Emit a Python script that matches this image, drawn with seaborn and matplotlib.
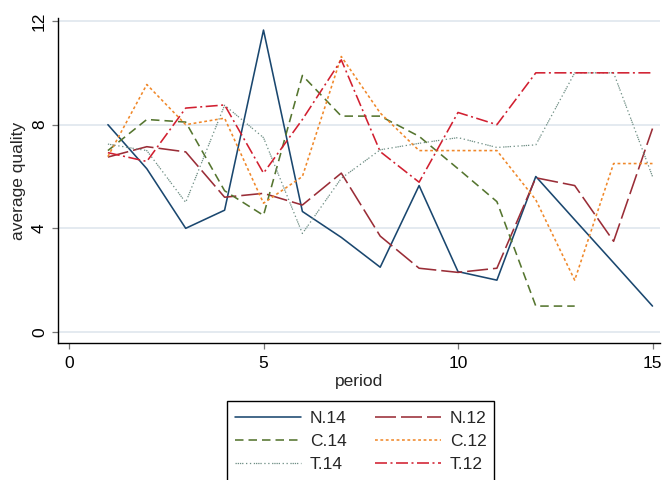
import numpy as np
import pandas as pd
import matplotlib
matplotlib.use("Agg")
import matplotlib.pyplot as plt
from matplotlib.patches import Rectangle
import seaborn as sns

period = list(range(1, 16))
N14 = [8.0, 6.3, 4.0, 4.7, 11.65, 4.65, 3.65, 2.5, 5.65, 2.33, 2.0, 6.0, 4.33, 2.67, 1.0]
N12 = [6.75, 7.15, 6.95, 5.2, 5.35, 4.9, 6.13, 3.7, 2.46, 2.3, 2.46, 5.95, 5.65, 3.5, 7.85]
C14 = [7.0, 8.2, 8.1, 5.45, 4.5, 9.9, 8.33, 8.33, 7.55, 6.3, 5.03, 1.0, 1.0]
C12 = [6.77, 9.55, 8.0, 8.25, 4.97, 6.0, 10.63, 8.45, 7.0, 7.0, 7.0, 5.1, 2.0, 6.5, 6.5]
T14 = [7.25, 7.0, 5.0, 8.75, 7.5, 3.8, 5.93, 7.03, 7.28, 7.5, 7.12, 7.22, 10.0, 10.0, 6.0]
T12 = [6.92, 6.58, 8.64, 8.76, 6.13, 8.2, 10.5, 6.96, 5.78, 8.47, 8.0, 10.0, 10.0, 10.0, 10.0]

series_names = ["N.14", "N.12", "C.14", "C.12", "T.14", "T.12"]
series_vals = [N14, N12, C14, C12, T14, T12]
x_ticks = [0, 5, 10, 15]
y_ticks = [0, 4, 8, 12]

colors = ["#1a476f", "#9a2d37", "#55752f", "#f0882a", "#6e8e84", "#d11f30"]

PX = 72 / 100  # points per pixel


def dash(lw, *px):
    return (0, tuple(p * PX / lw for p in px))


LW = 1.15
styles = [
    dict(lw=LW, ls="-"),
    dict(lw=LW, ls=dash(LW, 21, 5)),
    dict(lw=LW, ls=dash(LW, 8.5, 5)),
    dict(lw=LW, ls=dash(LW, 2.8, 2.6)),
    dict(lw=0.9, ls=dash(0.9, 1.3, 0.9, 1.3, 0.9, 1.3, 0.9, 1.3, 2.6, 1.3, 2.6, 1.3, 2.6)),
    dict(lw=LW, ls=dash(LW, 12, 3.5, 2, 3.5)),
]

sns.set_style("white")
plt.rcParams["font.family"] = ["Liberation Sans", "DejaVu Sans"]

fig = plt.figure(figsize=(6.63, 4.80), dpi=100)
ax = fig.add_axes([58 / 663, 1 - 343 / 480, (660 - 58) / 663, (343 - 18) / 480])

for ytk in y_ticks:
    ax.axhline(ytk, color="#dde4ec", lw=1.1, zorder=0)

handles = {}
for name, vals, col, st in zip(series_names, series_vals, colors, styles):
    df = pd.DataFrame({"period": period[:len(vals)], "value": vals})
    sns.lineplot(data=df, x="period", y="value", ax=ax, color=col,
                 linewidth=st["lw"], linestyle=st["ls"], estimator=None,
                 sort=False, label=name, legend=False)
    handles[name] = ax.lines[-1]

ax.set_xlim((58 - 69) / 38.9, (660 - 69) / 38.9)
ax.set_ylim(-11 / 25.9, 12 + 3 / 25.9)
ax.set_xticks(x_ticks)
ax.set_yticks(y_ticks)
ax.set_yticklabels([str(v) for v in y_ticks], rotation=90, va="center")

for s in ["top", "right"]:
    ax.spines[s].set_visible(False)
for s in ["left", "bottom"]:
    ax.spines[s].set_color("black")
    ax.spines[s].set_linewidth(1.0)

ax.tick_params(axis="both", which="major", length=4, width=0.9, color="#777777",
               labelsize=12.5, labelcolor="black", left=True, bottom=True)
ax.tick_params(axis="x", pad=5)
ax.tick_params(axis="y", pad=4)

ax.set_xlabel("period", fontsize=12.5)
ax.set_ylabel("average quality", fontsize=12.5)
ax.xaxis.set_label_coords(0.5, -0.095)
ax.yaxis.set_label_coords(-0.053, 0.5)

# legend frame drawn separately
fig.patches.append(Rectangle((226.7 / 663, -0.05), (494.3 - 226.7) / 663,
                             1 - 400.7 / 480 + 0.05, transform=fig.transFigure,
                             facecolor="white", edgecolor="black", lw=1.0, zorder=1))

order = ["N.14", "C.14", "T.14", "N.12", "C.12", "T.12"]
leg = fig.legend([handles[n] for n in order], order, ncol=2,
                 loc="upper left", bbox_to_anchor=(226.7 / 663, 1 - 403.5 / 480),
                 fontsize=12.5, frameon=False,
                 handlelength=3.85, handletextpad=0.5, columnspacing=1.6,
                 borderpad=0.45, labelspacing=0.44, borderaxespad=0)
leg.set_zorder(2)

fig.savefig("out.png", dpi=100)
